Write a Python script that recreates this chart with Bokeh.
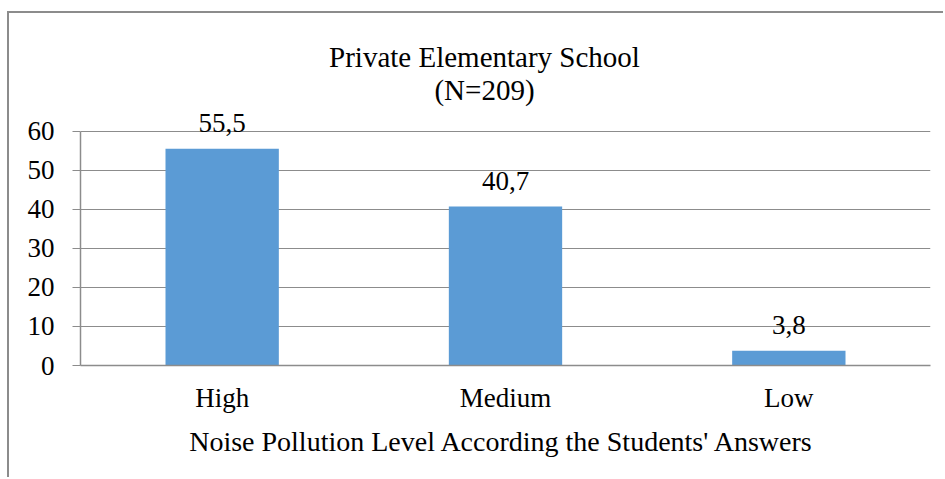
from bokeh.plotting import figure
from bokeh.models import ColumnDataSource, LabelSet, Label, FactorRange, Range1d
from bokeh.embed import file_html
from bokeh.resources import INLINE

# ---- data ----
categories = ["High", "Medium", "Low"]
values = [55.5, 40.7, 3.8]
value_labels = ["55,5", "40,7", "3,8"]
y_ticks = [0, 10, 20, 30, 40, 50, 60]
title_line1 = "Private Elementary School"
title_line2 = "(N=209)"
x_title = "Noise Pollution Level According  the Students' Answers"

FONT = "Liberation Serif"
GRID = "#8c8c8c"
BAR = "#5B9BD5"

# frame geometry (pixels)
FRAME_H = 352
AXIS_H = 234.3  # pixel height of the 0..60 span
y_top = max(y_ticks) * FRAME_H / AXIS_H

source = ColumnDataSource(dict(cat=categories, val=values, lab=value_labels))

p = figure(
    x_range=FactorRange(*categories),
    y_range=Range1d(0, y_top),
    width=936, height=466,
    output_backend="svg", toolbar_location=None,
    min_border_left=71, min_border_right=15,
    min_border_top=0, min_border_bottom=114,
)
p.styles = {"border-left": "2px solid #8c8c8c", "border-top": "2px solid #8c8c8c",
            "margin-top": "11px", "margin-left": "7px"}
p.outline_line_color = None
p.background_fill_color = "white"

p.vbar(x="cat", top="val", width=0.4, source=source, fill_color=BAR, line_color=None)

labels = LabelSet(x="cat", y="val", text="lab", source=source, text_align="center",
                  text_baseline="alphabetic", y_offset=17, text_font=FONT,
                  text_font_size="27px", text_color="#000000")
p.add_layout(labels)

# axes
p.yaxis.ticker = y_ticks
p.yaxis.bounds = (min(y_ticks), max(y_ticks))
p.yaxis.minor_tick_line_color = None
p.yaxis.major_tick_out = 8
p.yaxis.major_tick_in = 0
p.yaxis.major_tick_line_color = GRID
p.yaxis.axis_line_color = GRID
p.yaxis.axis_line_width = 1.5
p.yaxis.major_label_standoff = 18
p.yaxis.major_label_text_font = FONT
p.yaxis.major_label_text_font_size = "27px"
p.yaxis.major_label_text_color = "#000000"

p.xaxis.major_tick_out = 0
p.xaxis.major_tick_in = 0
p.xaxis.axis_line_color = GRID
p.xaxis.axis_line_width = 1.5
p.xaxis.major_label_standoff = 17
p.xaxis.major_label_text_font = FONT
p.xaxis.major_label_text_font_size = "27px"
p.xaxis.major_label_text_color = "#000000"
p.xaxis.axis_label = x_title
p.xaxis.axis_label_text_font = FONT
p.xaxis.axis_label_text_font_size = "28px"
p.xaxis.axis_label_text_font_style = "normal"
p.xaxis.axis_label_text_color = "#000000"
p.xaxis.axis_label_standoff = 10

p.xgrid.grid_line_color = None
p.ygrid.grid_line_color = GRID
p.ygrid.grid_line_width = 1

# titles (screen units relative to the frame's bottom-left)
t1 = Label(x=404, y=309, x_units="screen", y_units="screen", text=title_line1,
           text_align="center", text_baseline="alphabetic", text_font=FONT,
           text_font_size="29px", text_color="#000000")
t2 = Label(x=404, y=276, x_units="screen", y_units="screen", text=title_line2,
           text_align="center", text_baseline="alphabetic", text_font=FONT,
           text_font_size="29px", text_color="#000000")
p.add_layout(t1)
p.add_layout(t2)

open("out.html", "w").write(file_html(p, INLINE))
